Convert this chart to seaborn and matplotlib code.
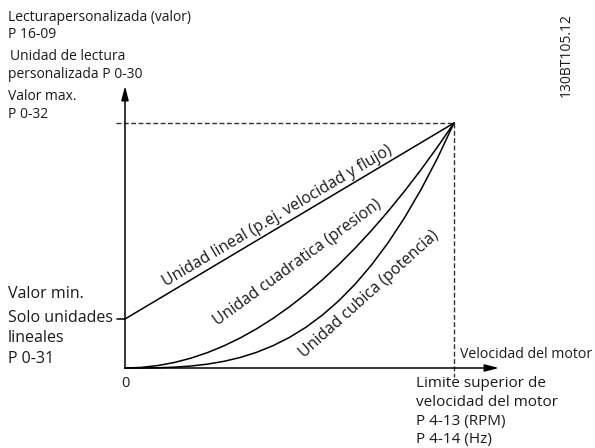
import numpy as np
import pandas as pd
import matplotlib
matplotlib.use("Agg")
import matplotlib.pyplot as plt
import seaborn as sns

sns.set_theme(style="white")
plt.rcParams['font.family'] = ['Open Sans', 'DejaVu Sans']

# ---- data (normalised speed 0..1, normalised readout 0..1) ----
speed = [0.00, 0.05, 0.10, 0.15, 0.20, 0.25, 0.30, 0.35, 0.40, 0.45, 0.50,
         0.55, 0.60, 0.65, 0.70, 0.75, 0.80, 0.85, 0.90, 0.95, 1.00]
linear_speed = [0.0, 1.0]
linear_vals = [0.2, 1.0]
quadratic_vals = [0.0, 0.0025, 0.01, 0.0225, 0.04, 0.0625, 0.09, 0.1225, 0.16,
                  0.2025, 0.25, 0.3025, 0.36, 0.4225, 0.49, 0.5625, 0.64,
                  0.7225, 0.81, 0.9025, 1.0]
cubic_vals = [0.0, 0.000125, 0.001, 0.003375, 0.008, 0.015625, 0.027,
              0.042875, 0.064, 0.091125, 0.125, 0.166375, 0.216, 0.274625,
              0.343, 0.421875, 0.512, 0.614125, 0.729, 0.857375, 1.0]

curve_labels = ["Unidad lineal (p.ej. velocidad y flujo)",
                "Unidad cuadratica (presion)",
                "Unidad cubica (potencia)"]

df = pd.concat([
    pd.DataFrame({"speed": linear_speed, "value": linear_vals, "curve": "lineal"}),
    pd.DataFrame({"speed": speed, "value": quadratic_vals, "curve": "cuadratica"}),
    pd.DataFrame({"speed": speed, "value": cubic_vals, "curve": "cubica"}),
])

W, H = 595, 448
X0, X1 = 125, 454   # pixel x of speed 0 and 1
Y0, Y1 = 368, 123   # pixel y of value 0 and 1

fig = plt.figure(figsize=(W / 100, H / 100), dpi=100)
ax = fig.add_axes([X0 / W, (H - Y0) / H, (X1 - X0) / W, (Y0 - Y1) / H])
ax.set_xlim(0, 1)
ax.set_ylim(0, 1)
ax.axis("off")


def dx(p):
    return (p - X0) / (X1 - X0)


def dy(p):
    return (Y0 - p) / (Y0 - Y1)


sns.lineplot(data=df, x="speed", y="value", hue="curve",
             palette={"lineal": "black", "cuadratica": "black", "cubica": "black"},
             estimator=None, sort=False, legend=False, linewidth=1.1, ax=ax)
for l in ax.lines:
    l.set_clip_on(False)

# axes with arrows
arrow = dict(arrowstyle="-|>,head_length=0.7,head_width=0.18", color="black",
             lw=1.1, shrinkA=0, shrinkB=0)
ax.annotate("", xy=(0, dy(86)), xytext=(0, 0), arrowprops=arrow,
            annotation_clip=False)
ax.annotate("", xy=(dx(499), 0), xytext=(0, 0), arrowprops=arrow,
            annotation_clip=False)

# dashed guides to max point
ax.plot([dx(116), 1], [1, 1], ls=(0, (3.5, 1.8)), color="#333333", lw=1.0,
        clip_on=False)
ax.plot([1, 1], [1, dy(377)], ls=(0, (3.5, 1.8)), color="#333333", lw=1.0,
        clip_on=False)
# small tick at min value
ax.plot([dx(117), 0], [linear_vals[0], linear_vals[0]], color="black", lw=1.1,
        clip_on=False)

TXT = "#1a1a1a"
# curve labels
lab_fs = 11.3
ax.text(dx(278), dy(216), curve_labels[0], rotation=30.5, rotation_mode="anchor",
        ha="center", va="center", fontsize=lab_fs, color=TXT)
ax.text(dx(298), dy(263), curve_labels[1], rotation=36, rotation_mode="anchor",
        ha="center", va="center", fontsize=lab_fs, color=TXT)
ax.text(dx(369), dy(294), curve_labels[2], rotation=42, rotation_mode="anchor",
        ha="center", va="center", fontsize=lab_fs, color=TXT)

# top-left labels
top_fs = 10.0
for txt, x, y in [("Lecturapersonalizada (valor)", 8, 18),
                  ("P 16-09", 8, 35),
                  ("Unidad de lectura", 10, 56),
                  ("personalizada P 0-30", 8, 74),
                  ("Valor max.", 8, 96),
                  ("P 0-32", 8, 115)]:
    ax.text(dx(x), dy(y), txt, ha="left", va="center", fontsize=top_fs,
            color=TXT)

# lower-left labels
low_fs = 11.5
for txt, y in [("Valor min.", 294), ("Solo unidades", 318),
               ("lineales", 338), ("P 0-31", 359)]:
    ax.text(dx(8), dy(y), txt, ha="left", va="center", fontsize=low_fs,
            color=TXT)

ax.text(0, dy(383), "0", ha="center", va="center", fontsize=10.5, color=TXT)

# x-axis labels
ax.text(dx(460), dy(354), "Velocidad del motor", ha="left", va="center",
        fontsize=10.2, color=TXT)
for txt, y in [("Limite superior de", 383), ("velocidad del motor", 402),
               ("P 4-13 (RPM)", 421), ("P 4-14 (Hz)", 439)]:
    ax.text(dx(416), dy(y), txt, ha="left", va="center", fontsize=11,
            color=TXT)

ax.text(dx(566), dy(55), "130BT105.12", rotation=90, ha="center", va="center",
        fontsize=10, color=TXT)

fig.savefig("out.png", dpi=100)
